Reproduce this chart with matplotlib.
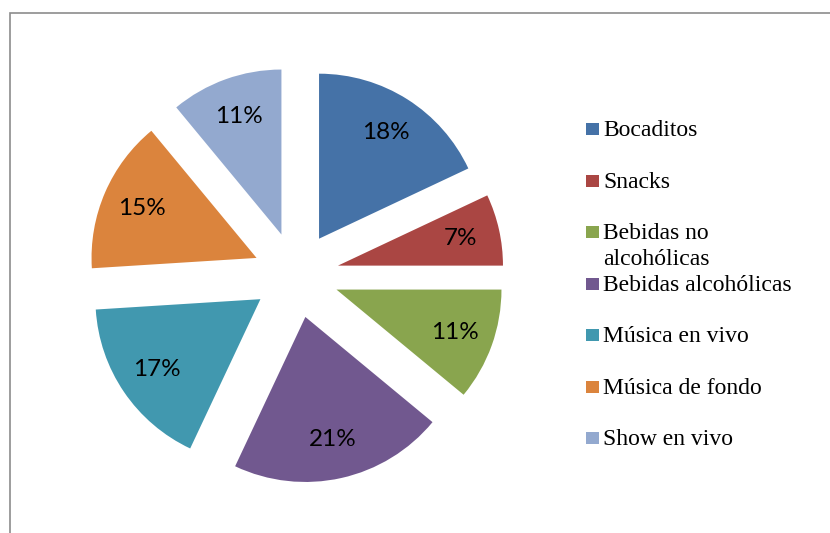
import matplotlib
matplotlib.use("Agg")
import matplotlib.pyplot as plt
from matplotlib.patches import Rectangle

categories = ["Bocaditos", "Snacks", "Bebidas no\nalcohólicas", "Bebidas alcohólicas",
              "Música en vivo", "Música de fondo", "Show en vivo"]
shares = [18, 7, 11, 21, 17, 15, 11]
colors = ["#4572A7", "#AA4643", "#89A54E", "#71588F", "#4198AF", "#DB843D", "#93A9CF"]

W, H = 830, 533
CX, CY, R = 296, 275, 165      # pie centre / radius in pixels (y from top)
EXPLODE = 43 / R

fig = plt.figure(figsize=(W / 100, H / 100), dpi=100)
ax = fig.add_axes([0, 0, 1, 1])
ax.pie(shares, colors=colors, startangle=90, counterclock=False,
       explode=[EXPLODE] * len(shares), radius=1.0,
       autopct=lambda p: f"{p:.0f}%", pctdistance=0.76,
       textprops=dict(family=["Lato", "DejaVu Sans"], fontsize=17.5, color="black"),
       wedgeprops=dict(linewidth=0))
ax.set_xlim(-CX / R, (W - CX) / R)
ax.set_ylim(-(H - CY) / R, CY / R)
ax.set_aspect("equal")
ax.axis("off")

# chart frame
fig.patches.append(Rectangle((9.5 / W, -0.1), 1.2, 1 + 0.1 - 12.8 / H,
                             transform=fig.transFigure, fill=False,
                             edgecolor="#8c8c8c", linewidth=1.2))

# legend, drawn by hand so the wrapped entry keeps its square on the first line
leg_y = [128.5, 181, 231.7, 283.5, 335, 386.5, 437.5]
for lab, col, yc in zip(categories, colors, leg_y):
    fig.patches.append(Rectangle((586 / W, 1 - (yc + 6) / H), 13 / W, 12 / H,
                                 transform=fig.transFigure, facecolor=col,
                                 edgecolor="none"))
    for k, line in enumerate(lab.split("\n")):
        fig.text(603 / W, 1 - (yc + 7.5 + 26 * k) / H, line, ha="left", va="baseline",
                 fontfamily="Liberation Serif", fontsize=17)

fig.savefig("out.png", dpi=100)
